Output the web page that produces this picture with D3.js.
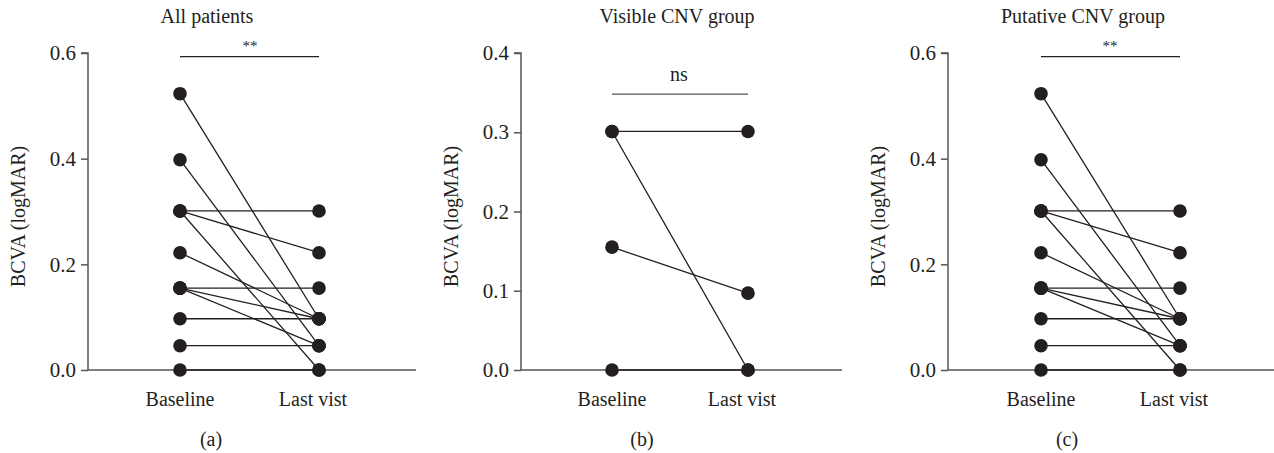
<!DOCTYPE html>
<html>
<head>
<meta charset="utf-8">
<script src="https://cdn.jsdelivr.net/npm/d3@7"></script>
<style>
  body { margin: 0; background: #fff; }
  text { font-family: "Liberation Serif", "DejaVu Serif", serif; fill: #231f20; }
</style>
</head>
<body>
<svg id="chart" width="1274" height="453"></svg>
<script>
const timepoints = ["Baseline", "Last vist"];

// paired values [baseline, last visit] per eye
const allPatients = [
    [0.523, 0.097], [0.398, 0.046], [0.301, 0.301], [0.301, 0.222],
    [0.301, 0.000], [0.222, 0.097], [0.155, 0.155], [0.155, 0.097],
    [0.155, 0.046], [0.097, 0.097], [0.046, 0.046], [0.000, 0.000]
];
const visibleCNV = [
    [0.301, 0.301], [0.301, 0.000], [0.155, 0.097], [0.000, 0.000]
];
const putativeCNV = [
    [0.523, 0.097], [0.398, 0.046], [0.301, 0.301], [0.301, 0.222],
    [0.301, 0.000], [0.222, 0.097], [0.155, 0.155], [0.155, 0.097],
    [0.155, 0.046], [0.097, 0.097], [0.046, 0.046], [0.000, 0.000]
];

const titles = ["All patients", "Visible CNV group", "Putative CNV group"];
const letters = ["(a)", "(b)", "(c)"];
const sigLabels = ["**", "ns", "**"];
const sigLevels = [0.593, 0.348, 0.593];
const yMax = [0.6, 0.4, 0.6];
const yTicks = [[0, 0.2, 0.4, 0.6], [0, 0.1, 0.2, 0.3, 0.4], [0, 0.2, 0.4, 0.6]];

const panels = [
    { data: allPatients, axisX: 88, right: 416, xs: [180, 319], titleX: 207, sigX: 250, letterX: 211 },
    { data: visibleCNV, axisX: 521, right: 842, xs: [612, 748], titleX: 677, sigX: 679, letterX: 642 },
    { data: putativeCNV, axisX: 948, right: 1274, xs: [1041, 1180], titleX: 1083, sigX: 1110, letterX: 1067 }
];

const plotTop = 53, plotBottom = 370;
const ink = "#231f20";
const axisColor = "#555";
const svg = d3.select("#chart");

panels.forEach((p, i) => {
    const g = svg.append("g");

    const y = d3.scaleLinear().domain([0, yMax[i]]).range([plotBottom, plotTop]);
    const x = d3.scalePoint().domain(timepoints).range(p.xs);

    // y axis
    const yAxis = g.append("g")
        .attr("transform", `translate(${p.axisX},0)`)
        .call(d3.axisLeft(y).tickValues(yTicks[i]).tickFormat(d3.format(".1f")).tickSize(7).tickPadding(5));
    yAxis.select(".domain").attr("stroke", axisColor).attr("stroke-width", 1.5).attr("d", `M-7,${plotTop}H0V${plotBottom}`);
    yAxis.selectAll(".tick line").attr("stroke", axisColor).attr("stroke-width", 1.5);
    yAxis.selectAll(".tick text").attr("font-size", 21).attr("fill", ink)
        .style("font-family", "Liberation Serif, serif");

    // x axis
    g.append("line")
        .attr("x1", p.axisX).attr("x2", p.right)
        .attr("y1", plotBottom).attr("y2", plotBottom)
        .attr("stroke", axisColor).attr("stroke-width", 1.5);

    g.selectAll(".xlab")
        .data(timepoints)
        .enter()
        .append("text")
        .attr("x", (d, j) => x(d) + (j === 1 ? -6 : 0))
        .attr("y", 406)
        .attr("text-anchor", "middle")
        .attr("font-size", 20)
        .text(d => d);

    // y label
    g.append("text")
        .attr("transform", `translate(${p.axisX - 63},${(plotTop + plotBottom) / 2 + 5}) rotate(-90)`)
        .attr("text-anchor", "middle")
        .attr("font-size", 20)
        .text("BCVA (logMAR)");

    // title
    g.append("text")
        .attr("x", p.titleX)
        .attr("y", 23)
        .attr("text-anchor", "middle")
        .attr("font-size", 20)
        .text(titles[i]);

    // significance bar
    g.append("line")
        .attr("x1", x(timepoints[0])).attr("x2", x(timepoints[1]))
        .attr("y1", y(sigLevels[i])).attr("y2", y(sigLevels[i]))
        .attr("stroke", i === 1 ? "#555" : ink).attr("stroke-width", 1.3);
    g.append("text")
        .attr("x", p.sigX)
        .attr("y", y(sigLevels[i]) - (i === 1 ? 13 : 6))
        .attr("text-anchor", "middle")
        .attr("font-size", i === 1 ? 20 : 15)
        .text(sigLabels[i]);

    // paired lines
    g.selectAll(".pair")
        .data(p.data)
        .enter()
        .append("line")
        .attr("x1", x(timepoints[0])).attr("y1", d => y(d[0]))
        .attr("x2", x(timepoints[1])).attr("y2", d => y(d[1]))
        .attr("stroke", ink).attr("stroke-width", 1.3);

    // dots
    const pts = [];
    p.data.forEach(d => { pts.push([0, d[0]]); pts.push([1, d[1]]); });
    g.selectAll(".dot")
        .data(pts)
        .enter()
        .append("circle")
        .attr("cx", d => x(timepoints[d[0]]))
        .attr("cy", d => y(d[1]))
        .attr("r", 6.8)
        .attr("fill", ink);

    // panel letter
    g.append("text")
        .attr("x", p.letterX)
        .attr("y", 446)
        .attr("text-anchor", "middle")
        .attr("font-size", 20)
        .text(letters[i]);
});
</script>
</body>
</html>
